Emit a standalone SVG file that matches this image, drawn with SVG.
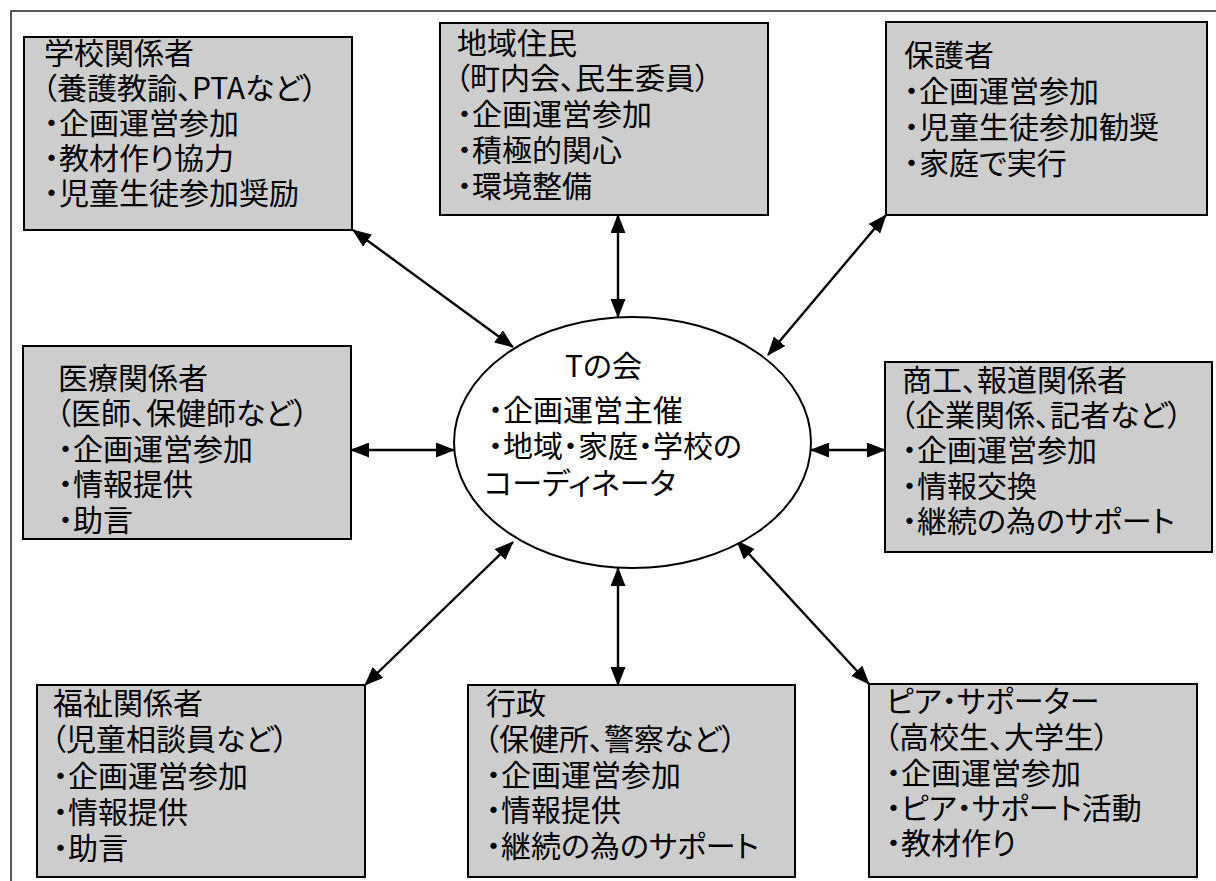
<svg xmlns="http://www.w3.org/2000/svg" width="1216" height="881" viewBox="0 0 1216 881">
<style>
.box{fill:#cdcdcd;stroke:#000;stroke-width:2}
.t{font-family:"Noto Sans CJK JP","Noto Sans CJK SC",sans-serif;font-size:30px;fill:#000;font-feature-settings:"palt" 1}
.c{stroke:#000;stroke-width:2.4;fill:none;marker-start:url(#ah);marker-end:url(#ah)}
.frame{stroke:#222;stroke-width:1.5;fill:none}
</style>
<defs>
<marker id="ah" markerUnits="userSpaceOnUse" markerWidth="19" markerHeight="15" refX="18" refY="7.5" orient="auto-start-reverse" viewBox="0 0 19 15">
<path d="M0,0 L19,7.5 L0,15 z" fill="#000"/>
</marker>
</defs>
<rect width="1216" height="881" fill="#fff"/>
<path class="frame" d="M11,881 L11,11 L1216,11"/>

<g id="connectors">
<line class="c" x1="353" y1="230" x2="513" y2="347"/>
<line class="c" x1="618" y1="215" x2="618" y2="317"/>
<line class="c" x1="886" y1="215" x2="768" y2="355"/>
<line class="c" x1="351" y1="450" x2="454" y2="450"/>
<line class="c" x1="811" y1="450" x2="885" y2="450"/>
<line class="c" x1="365" y1="685" x2="513" y2="542"/>
<line class="c" x1="618" y1="568" x2="618" y2="685"/>
<line class="c" x1="869" y1="684" x2="737" y2="541"/>
</g>

<g id="center">
<ellipse cx="632.5" cy="442.5" rx="178.5" ry="125.5" fill="#fff" stroke="#000" stroke-width="2"/>
<text class="t"><tspan x="565" y="377">Tの会</tspan><tspan x="488" y="421">・企画運営主催</tspan><tspan x="488" y="457">・地域・家庭・学校の</tspan><tspan x="484" y="494">コーディネータ</tspan></text>
</g>

<g id="school">
<rect class="box" x="24" y="37" width="328" height="193"/>
<text class="t"><tspan x="44" y="64">学校関係者</tspan><tspan x="42" y="99">（養護教諭、PTAなど）</tspan><tspan x="44" y="134">・企画運営参加</tspan><tspan x="44" y="169">・教材作り協力</tspan><tspan x="44" y="204">・児童生徒参加奨励</tspan></text>
</g>

<g id="residents">
<rect class="box" x="440" y="23" width="328" height="192"/>
<text class="t"><tspan x="457" y="54">地域住民</tspan><tspan x="455" y="89">（町内会、民生委員）</tspan><tspan x="457" y="125">・企画運営参加</tspan><tspan x="457" y="161">・積極的関心</tspan><tspan x="457" y="197">・環境整備</tspan></text>
</g>

<g id="guardians">
<rect class="box" x="886" y="22" width="321" height="193"/>
<text class="t"><tspan x="904" y="66">保護者</tspan><tspan x="904" y="102">・企画運営参加</tspan><tspan x="904" y="138">・児童生徒参加勧奨</tspan><tspan x="904" y="174">・家庭で実行</tspan></text>
</g>

<g id="medical">
<rect class="box" x="23" y="346" width="328" height="193"/>
<text class="t"><tspan x="58" y="389">医療関係者</tspan><tspan x="56" y="424">（医師、保健師など）</tspan><tspan x="58" y="460">・企画運営参加</tspan><tspan x="58" y="495">・情報提供</tspan><tspan x="58" y="531">・助言</tspan></text>
</g>

<g id="commerce">
<rect class="box" x="885" y="362" width="327" height="190"/>
<text class="t"><tspan x="902" y="391">商工、報道関係者</tspan><tspan x="900" y="426">（企業関係、記者など）</tspan><tspan x="902" y="461">・企画運営参加</tspan><tspan x="902" y="497">・情報交換</tspan><tspan x="902" y="532">・継続の為のサポート</tspan></text>
</g>

<g id="welfare">
<rect class="box" x="37" y="685" width="328" height="192"/>
<text class="t"><tspan x="53" y="714">福祉関係者</tspan><tspan x="51" y="750">（児童相談員など）</tspan><tspan x="53" y="787">・企画運営参加</tspan><tspan x="53" y="823">・情報提供</tspan><tspan x="53" y="859">・助言</tspan></text>
</g>

<g id="administration">
<rect class="box" x="468" y="685" width="327" height="192"/>
<text class="t"><tspan x="486" y="714">行政</tspan><tspan x="484" y="750">（保健所、警察など）</tspan><tspan x="486" y="786">・企画運営参加</tspan><tspan x="486" y="821">・情報提供</tspan><tspan x="486" y="857">・継続の為のサポート</tspan></text>
</g>

<g id="peer">
<rect class="box" x="869" y="684" width="328" height="193"/>
<text class="t"><tspan x="886" y="712">ピア・サポーター</tspan><tspan x="884" y="748">（高校生、大学生）</tspan><tspan x="886" y="784">・企画運営参加</tspan><tspan x="886" y="819">・ピア・サポート活動</tspan><tspan x="886" y="854">・教材作り</tspan></text>
</g>
</svg>
